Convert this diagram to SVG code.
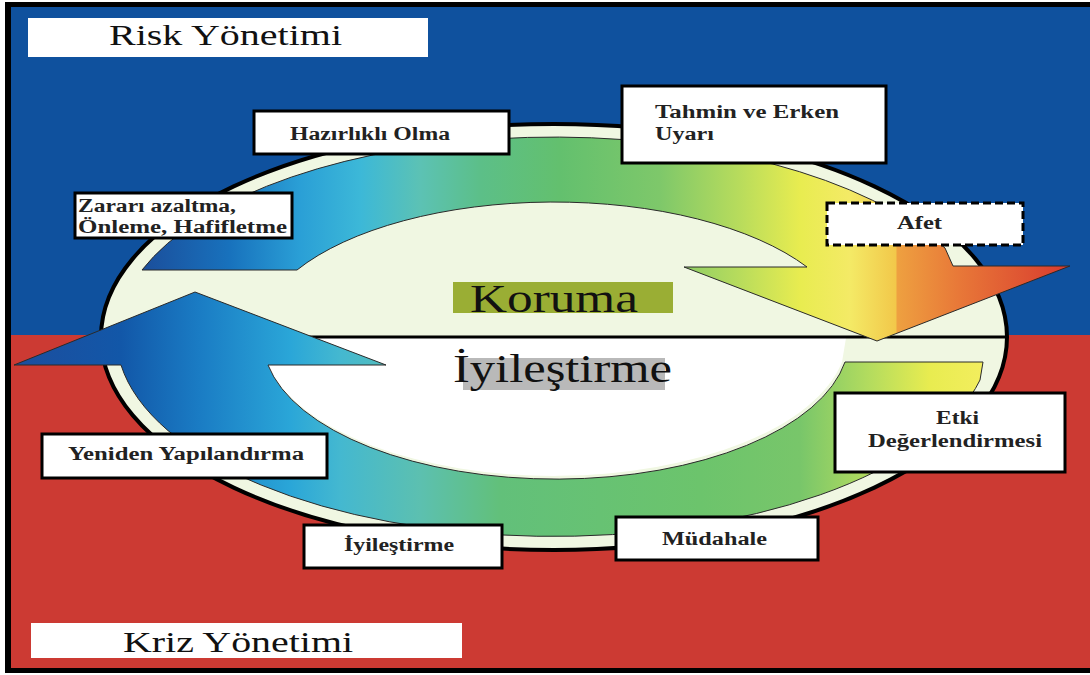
<svg xmlns="http://www.w3.org/2000/svg" width="1090" height="675" viewBox="0 0 1090 675">
<defs>
<style>
.box{fill:#fff;stroke:#000;stroke-width:3}
.plain{fill:#fff}
.lbl{font-family:"Liberation Serif","Times New Roman",serif;font-weight:bold;font-size:18px;fill:#222}
.title{font-family:"Liberation Serif","Times New Roman",serif;font-size:30px;fill:#111}
.big{font-family:"Liberation Serif","Times New Roman",serif;font-size:40px;fill:#111}
.arrow{stroke:#2a2a2a;stroke-width:1}
</style>
<linearGradient id="gUp" gradientUnits="userSpaceOnUse" x1="142" y1="0" x2="1070" y2="0">
<stop offset="0" stop-color="#1b4e9b"/>
<stop offset="0.095" stop-color="#1872bd"/>
<stop offset="0.17" stop-color="#2a9fd6"/>
<stop offset="0.235" stop-color="#3cb8d8"/>
<stop offset="0.3" stop-color="#5cc2b4"/>
<stop offset="0.365" stop-color="#5cbf88"/>
<stop offset="0.45" stop-color="#63c06e"/>
<stop offset="0.558" stop-color="#7ec86a"/>
<stop offset="0.644" stop-color="#b8dc5c"/>
<stop offset="0.709" stop-color="#e8ec50"/>
<stop offset="0.763" stop-color="#f4ea66"/>
<stop offset="0.812" stop-color="#f2c84a"/>
<stop offset="0.814" stop-color="#eea040"/>
<stop offset="0.88" stop-color="#e87838"/>
<stop offset="1" stop-color="#d83a2e"/>
</linearGradient>
<linearGradient id="gLow" gradientUnits="userSpaceOnUse" x1="14" y1="0" x2="990" y2="0">
<stop offset="0" stop-color="#1c4e9e"/>
<stop offset="0.109" stop-color="#1257a8"/>
<stop offset="0.19" stop-color="#1a7cc4"/>
<stop offset="0.283" stop-color="#2aa6d8"/>
<stop offset="0.334" stop-color="#44b8d0"/>
<stop offset="0.416" stop-color="#5cc0b0"/>
<stop offset="0.498" stop-color="#62c07a"/>
<stop offset="0.703" stop-color="#6cc46c"/>
<stop offset="0.805" stop-color="#78c66a"/>
<stop offset="0.877" stop-color="#b4dc5e"/>
<stop offset="0.938" stop-color="#e8ec50"/>
<stop offset="1" stop-color="#f4ee60"/>
</linearGradient>
</defs>
<rect x="0" y="0" width="1090" height="675" fill="#fff"/>
<rect x="5" y="2" width="1090" height="671" fill="#000"/>
<rect x="11" y="7" width="1079" height="328" fill="#0f519e"/>
<rect x="11" y="335" width="1079" height="333" fill="#cc3a33"/>
<g id="ellipse">
<ellipse cx="554" cy="337" rx="453" ry="213" fill="#f0f7e2" stroke="#000" stroke-width="4"/>
<path d="M260,338 L846,338 L842,362 A293,140 0 0 1 268,366 Z" fill="#fff"/>
<line x1="100" y1="337" x2="1008" y2="337" stroke="#000" stroke-width="3"/>
</g>
<g id="connectors">
<path class="arrow" fill="url(#gUp)" d="M142,270 L297,270 A296,135 0 0 1 807,267 L684,267 L877,341 L1070,266 L953,266 L945,248 A437,200 0 0 0 142,270 Z"/>
<path class="arrow" fill="url(#gLow)" d="M983,362 L845,362 A293,140 0 0 1 268,365 L386,365 L195,292 L14,365 L121,365 A437,200 0 0 0 980,380 Z"/>
</g>
<g id="koruma">
<rect x="453" y="282" width="220" height="31" fill="#9aae34"/>
<text class="big" x="470" y="312" textLength="168" lengthAdjust="spacingAndGlyphs">Koruma</text>
</g>
<g id="iyilestirme-center">
<rect x="463" y="358" width="202" height="32" fill="#b9b9b9"/>
<text class="big" x="453" y="382" textLength="219" lengthAdjust="spacingAndGlyphs">İyileştirme</text>
</g>
<g id="risk-yonetimi">
<rect class="plain" x="28" y="18" width="400" height="39"/>
<text class="title" x="109" y="45" textLength="233" lengthAdjust="spacingAndGlyphs">Risk Yönetimi</text>
</g>
<g id="kriz-yonetimi">
<rect class="plain" x="31" y="623" width="431" height="35"/>
<text class="title" x="123" y="652" textLength="230" lengthAdjust="spacingAndGlyphs">Kriz Yönetimi</text>
</g>
<g id="hazirlikli-olma">
<rect class="box" x="254" y="111" width="255" height="43"/>
<text class="lbl" x="290" y="140" textLength="160" lengthAdjust="spacingAndGlyphs">Hazırlıklı Olma</text>
</g>
<g id="zarari-azaltma">
<rect class="box" x="75" y="193" width="217" height="45"/>
<text class="lbl" x="78" y="212" textLength="158" lengthAdjust="spacingAndGlyphs">Zararı azaltma,</text>
<text class="lbl" x="78" y="233" textLength="209" lengthAdjust="spacingAndGlyphs">Önleme, Hafifletme</text>
</g>
<g id="tahmin">
<rect class="box" x="622" y="86" width="264" height="77"/>
<text class="lbl" x="655" y="118" textLength="184" lengthAdjust="spacingAndGlyphs">Tahmin ve Erken</text>
<text class="lbl" x="655" y="140" textLength="59" lengthAdjust="spacingAndGlyphs">Uyarı</text>
</g>
<g id="afet">
<rect x="827" y="203" width="196" height="42" fill="#fff" stroke="#000" stroke-width="3" stroke-dasharray="8,4"/>
<text class="lbl" x="897" y="229" textLength="45" lengthAdjust="spacingAndGlyphs">Afet</text>
</g>
<g id="etki">
<rect class="box" x="835" y="393" width="230" height="79"/>
<text class="lbl" x="936" y="424" textLength="43" lengthAdjust="spacingAndGlyphs">Etki</text>
<text class="lbl" x="868" y="447" textLength="174" lengthAdjust="spacingAndGlyphs">Değerlendirmesi</text>
</g>
<g id="mudahale">
<rect class="box" x="616" y="517" width="202" height="43"/>
<text class="lbl" x="662" y="545" textLength="105" lengthAdjust="spacingAndGlyphs">Müdahale</text>
</g>
<g id="iyilestirme">
<rect class="box" x="304" y="525" width="198" height="43"/>
<text class="lbl" x="344" y="551" textLength="110" lengthAdjust="spacingAndGlyphs">İyileştirme</text>
</g>
<g id="yeniden">
<rect class="box" x="42" y="434" width="285" height="44"/>
<text class="lbl" x="68" y="460" textLength="236" lengthAdjust="spacingAndGlyphs">Yeniden Yapılandırma</text>
</g>
</svg>
